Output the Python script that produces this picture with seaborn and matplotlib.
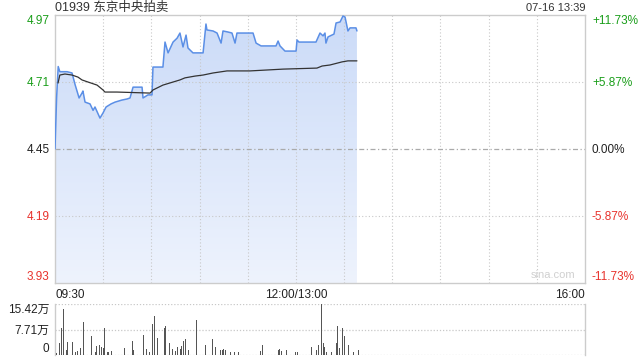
import numpy as np
import pandas as pd
import matplotlib
matplotlib.use("Agg")
import matplotlib.pyplot as plt
from matplotlib.colors import LinearSegmentedColormap
import seaborn as sns

# ---------------- data ----------------
title = "01939 东京中央拍卖"
stamp = "07-16 13:39"
prev_close = 4.45
price_ticks = [3.93, 4.19, 4.45, 4.71, 4.97]
pct_labels = ["-11.73%", "-5.87%", "0.00%", "+5.87%", "+11.73%"]
time_ticks = [0, 150, 330]
time_labels = ["09:30", "12:00/13:00", "16:00"]

# minutes from 09:30 on a continuous trading clock (lunch removed)
price_min = [0, 1, 2, 3, 7.5, 10.6, 12.5, 15, 16.8, 17.4, 18.7, 21.8, 23.7, 24.9,
             28, 29.9, 31.8, 34.9, 37.4, 41.7, 44.8, 46.7, 48.6, 54.2, 54.8, 57.9,
             60.4, 61, 67.2, 68.5, 70.4, 73.5, 76, 77.8, 79.7, 81.6, 82.8, 85.9,
             92.2, 94, 94.6, 98.4, 100.9, 103.4, 104.6, 107.7, 110.2, 112.1, 113.3,
             123.3, 125.2, 128.3, 137.6, 138.9, 140.1, 143.2, 150.1, 150.7, 151.9,
             162.5, 165, 166.9, 168.1, 168.7, 170, 173.7, 175, 177.5, 179.3, 180.6,
             182.4, 183.7, 187.4, 188]
price_val = [4.45, 4.65, 4.77, 4.75, 4.75, 4.745, 4.70, 4.648, 4.667, 4.675, 4.632,
             4.625, 4.60, 4.613, 4.57, 4.59, 4.613, 4.625, 4.632, 4.64, 4.644, 4.648,
             4.69, 4.69, 4.648, 4.66, 4.66, 4.768, 4.768, 4.865, 4.823, 4.865, 4.88,
             4.90, 4.846, 4.892, 4.842, 4.823, 4.823, 4.935, 4.912, 4.908, 4.90,
             4.861, 4.908, 4.904, 4.90, 4.861, 4.90, 4.90, 4.861, 4.85, 4.85, 4.869,
             4.85, 4.83, 4.83, 4.873, 4.865, 4.865, 4.90, 4.889, 4.90, 4.861, 4.885,
             4.896, 4.939, 4.943, 4.966, 4.962, 4.908, 4.92, 4.92, 4.908]

avg_min = [1.9, 3, 6.2, 10.6, 14.3, 16.8, 20.5, 26.2, 29.9, 31.1, 38.6, 59.2, 61,
           67.2, 77.8, 80.9, 87.2, 92.2, 98.4, 107.1, 121.4, 142, 163.1, 166.3,
           171.2, 178.7, 182.4, 188]
avg_val = [4.706, 4.737, 4.741, 4.737, 4.729, 4.718, 4.71, 4.698, 4.679, 4.671,
           4.671, 4.667, 4.679, 4.698, 4.718, 4.726, 4.733, 4.737, 4.745, 4.753,
           4.753, 4.76, 4.764, 4.772, 4.776, 4.788, 4.792, 4.792]

vol_min = [1, 3, 4, 5, 7, 8, 11, 13, 14, 16, 18, 23, 25, 26, 28, 29, 30, 31, 33, 35,
           43, 48, 49, 55, 57, 59, 61, 62, 64, 68, 69, 71, 73, 75, 76, 78, 79, 80, 81,
           83, 88, 94, 98, 100, 103, 104, 105, 106, 109, 112, 114, 128, 129, 139, 140,
           141, 144, 150, 151, 160, 163, 164, 166, 167, 168, 169, 172, 175, 176, 177,
           179, 180, 183, 186, 189]
vol_val = [0.7, 3.6, 8.2, 13.8, 1.5, 4.0, 4.0, 1.0, 1.2, 2.0, 10.1, 5.6, 0.8, 2.7,
           3.0, 2.5, 2.0, 8.2, 1.0, 1.2, 2.0, 4.2, 1.5, 6.1, 1.8, 0.8, 9.3, 11.7, 5.0,
           8.2, 8.8, 3.5, 1.8, 1.2, 2.4, 1.8, 2.7, 4.2, 4.8, 1.5, 10.6, 3.0, 4.8, 2.4,
           1.5, 1.5, 1.8, 1.5, 0.8, 1.0, 1.0, 1.2, 3.0, 1.5, 1.8, 1.2, 1.5, 1.0, 0.8,
           2.5, 1.5, 3.0, 15.42, 3.6, 2.5, 1.0, 1.0, 3.6, 8.8, 2.0, 8.2, 5.7, 3.0, 0.8,
           1.4]
vol_ticks = [0, 7.71, 15.42]
vol_labels = ["0", "7.71万", "15.42万"]

# ---------------- style ----------------
sns.set_theme(style="white")
plt.rcParams["font.family"] = ["Liberation Sans", "Noto Sans CJK SC", "DejaVu Sans"]

GREEN = "#1a9e1a"
RED = "#e8322c"
DARK = "#222222"
GRID = "#c8c8c8"
FRAME = "#cccccc"
LINE = "#5b8fe6"

W, H = 640, 360
fig = plt.figure(figsize=(6.4, 3.6), dpi=100)
fig.patch.set_facecolor("white")

def frac(x0, y0, x1, y1):
    return [x0 / W, 1 - y1 / H, (x1 - x0) / W, (y1 - y0) / H]

ax = fig.add_axes(frac(55, 15, 585, 283))
axv = fig.add_axes(frac(55, 304, 585, 355))

price_df = pd.DataFrame({"t": price_min, "p": price_val})
avg_df = pd.DataFrame({"t": avg_min, "p": avg_val})

ax.set_xlim(0, 330)
ax.set_ylim(price_ticks[0], price_ticks[-1])

# gradient fill under the price line
poly = ax.fill_between(price_df["t"], price_df["p"], price_ticks[0],
                       facecolor="none", edgecolor="none")
cmap = LinearSegmentedColormap.from_list("g", ["#eef3fd", "#cbdbf8"])
grad = np.linspace(0, 1, 256).reshape(-1, 1)
im = ax.imshow(grad, extent=[0, 330, price_ticks[0], price_ticks[-1]],
               origin="lower", aspect="auto", cmap=cmap, zorder=1)
im.set_clip_path(poly.get_paths()[0], transform=ax.transData)

# grid
for m in range(30, 330, 30):
    ax.axvline(m, color=GRID, lw=0.8, ls=(0, (1, 2)), zorder=2)
for p in [4.19, 4.71]:
    ax.axhline(p, color=GRID, lw=0.8, ls=(0, (1, 2)), zorder=2)
ax.axhline(prev_close, color="#aaaaaa", lw=0.9, ls=(0, (4, 2, 1, 2)), zorder=2)

sns.lineplot(data=price_df, x="t", y="p", ax=ax, color=LINE, lw=1.1,
             estimator=None, sort=False, zorder=4)
sns.lineplot(data=avg_df, x="t", y="p", ax=ax, color="#333333", lw=0.9,
             estimator=None, sort=False, zorder=5)

for s in ax.spines.values():
    s.set_color(FRAME)
    s.set_linewidth(1.0)

ax.set_xlabel("")
ax.set_ylabel("")
ax.set_yticks(price_ticks)
ax.set_yticklabels([f"{p:.2f}" for p in price_ticks])
ax.tick_params(axis="y", length=0, pad=4, labelsize=8.5)
ycols = [RED, RED, DARK, GREEN, GREEN]
for i, lab in enumerate(ax.get_yticklabels()):
    lab.set_color(ycols[i])
    if i == 0:
        lab.set_verticalalignment("bottom")
    elif i == len(price_ticks) - 1:
        lab.set_verticalalignment("top")

ax.set_xticks(time_ticks)
ax.set_xticklabels(time_labels)
ax.tick_params(axis="x", length=0, pad=4, labelsize=8.5, labelcolor=DARK)
has = ["left", "center", "right"]
for i, lab in enumerate(ax.get_xticklabels()):
    lab.set_horizontalalignment(has[i])

axr = ax.twinx()
axr.set_ylim(price_ticks[0], price_ticks[-1])
axr.set_yticks(price_ticks)
axr.set_yticklabels(pct_labels)
axr.tick_params(axis="y", length=0, pad=5, labelsize=8.5)
for i, lab in enumerate(axr.get_yticklabels()):
    lab.set_color(ycols[i])
    if i == 0:
        lab.set_verticalalignment("bottom")
    elif i == len(price_ticks) - 1:
        lab.set_verticalalignment("top")
for s in axr.spines.values():
    s.set_visible(False)
axr.grid(False)

fig.text(55 / W, 1 - 8 / H, title, ha="left", va="center",
         fontsize=9, color="#333333")
fig.text(585 / W, 1 - 8 / H, stamp, ha="right", va="center",
         fontsize=8, color="#333333")
ax.text(0.982, 0.012, "sina.com", transform=ax.transAxes, ha="right", va="bottom",
        fontsize=8, color="#d0d0d0")

# ---------------- volume ----------------
axv.set_xlim(0, 330)
axv.set_ylim(0, 15.42)
axv.bar(vol_min, vol_val, width=0.65, color="#555555", zorder=3, linewidth=0)
for v in vol_ticks:
    axv.axhline(v, color=GRID, lw=0.9, ls=(0, (1, 1.5)), zorder=2)
for k in ["top", "bottom"]:
    axv.spines[k].set_visible(False)
for k in ["left", "right"]:
    axv.spines[k].set_color(FRAME)
    axv.spines[k].set_linewidth(1.0)
axv.set_xticks([])
axv.set_yticks(vol_ticks)
axv.set_yticklabels(vol_labels)
axv.tick_params(axis="y", length=0, pad=4, labelsize=8.5, labelcolor=DARK)
vl = axv.get_yticklabels()
vl[0].set_verticalalignment("bottom")
vl[-1].set_verticalalignment("top")

fig.savefig("out.png", dpi=100, facecolor="white")
